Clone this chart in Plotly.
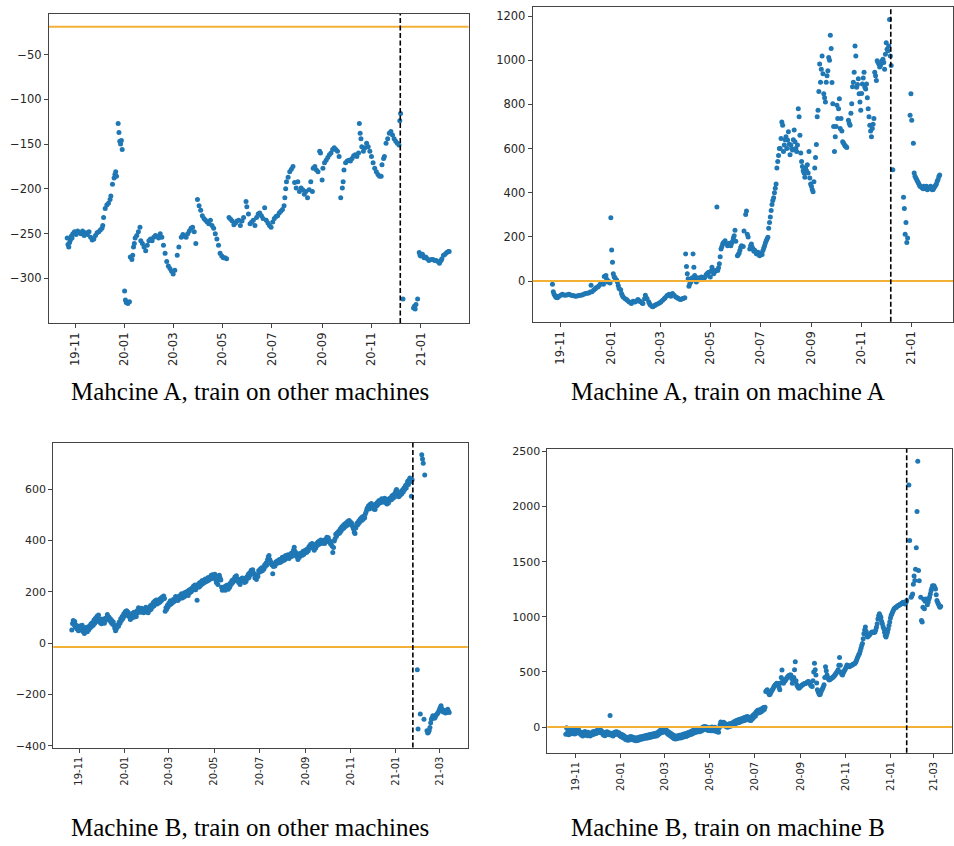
import pandas as pd
import plotly.graph_objects as go

BASE = pd.Timestamp("2019-11-01")

# ---------------- Panel 1: Machine A, train on other machines ----------------
p1_days = [-10, -9, -8, -7, -6, -5, -4, -3, -1, 1,
           3, 5, 7, 9, 11, 13, 15, 17, 19, 21,
           23, 25, 27, 29, 31, 33, 34, 35, 37, 39,
           41, 43, 44, 46, 48, 49, 50, 51, 53, 54,
           55, 56, 57, 58, 61, 62, 63, 65, 67, 68,
           70, 71, 72, 73, 74, 76, 78, 80, 81, 83,
           85, 87, 89, 91, 93, 95, 97, 99, 101, 103,
           105, 107, 109, 111, 113, 115, 117, 119, 121, 123,
           126, 128, 131, 133, 135, 137, 139, 141, 143, 145,
           147, 149, 151, 153, 155, 157, 159, 161, 163, 165,
           167, 169, 171, 173, 175, 177, 179, 181, 183, 185,
           187, 190, 192, 194, 196, 198, 200, 202, 204, 206,
           208, 211, 212, 214, 216, 218, 220, 222, 224, 226,
           228, 230, 232, 234, 236, 238, 240, 242, 244, 246,
           248, 250, 252, 254, 256, 258, 259, 260, 261, 263,
           265, 267, 269, 271, 273, 275, 277, 279, 281, 283,
           285, 287, 289, 291, 293, 294, 296, 298, 300, 302,
           303, 305, 306, 308, 310, 312, 314, 316, 318, 320,
           322, 324, 326, 328, 330, 331, 332, 334, 336, 338,
           340, 342, 344, 346, 348, 350, 351, 352, 353, 354,
           356, 358, 360, 362, 364, 366, 368, 370, 372, 374,
           376, 378, 379, 381, 382, 384, 386, 388, 390, 392,
           394, 396, 398, 400, 401, 402, 405, 418, 419, 420,
           421, 423, 425, 426, 427, 429, 431, 433, 435, 437,
           440, 442, 444, 446, 448, 450, 452, 453, 455, 457,
           459, 461, 462]
p1_vals = [-255, -262, -265, -260, -257, -253, -255, -250, -248, -251,
           -247, -249, -250, -247, -252, -249, -251, -248, -254, -257,
           -256, -252, -249, -248, -246, -244, -241, -232, -222, -218,
           -216, -212, -208, -195, -188, -184, -181, -186, -127, -137,
           -147, -150, -146, -156, -314, -324, -327, -328, -326, -276,
           -279, -274, -265, -261, -255, -252, -248, -243, -258, -261,
           -265, -269, -263, -258, -256, -258, -254, -252, -253, -255,
           -250, -254, -263, -272, -281, -286, -289, -292, -295, -291,
           -274, -265, -254, -251, -253, -254, -250, -247, -244, -243,
           -248, -261, -212, -219, -224, -230, -233, -235, -237, -239,
           -235, -241, -244, -250, -256, -263, -272, -275, -277, -277,
           -278, -232, -234, -236, -240, -238, -236, -235, -241, -236,
           -232, -214, -220, -228, -239, -237, -235, -241, -232, -228,
           -227, -230, -233, -221, -235, -238, -241, -243, -237, -233,
           -231, -230, -227, -225, -223, -219, -210, -200, -192, -187,
           -181, -178, -175, -193, -199, -192, -203, -199, -201, -206,
           -203, -210, -201, -192, -203, -177, -175, -179, -181, -158,
           -160, -190, -177, -171, -168, -165, -162, -160, -156, -154,
           -156, -158, -164, -210, -199, -192, -179, -171, -169, -168,
           -169, -166, -163, -162, -164, -160, -127, -138, -144, -153,
           -158, -154, -149, -153, -158, -164, -171, -177, -181, -184,
           -186, -186, -173, -166, -164, -149, -144, -138, -136, -140,
           -144, -147, -149, -151, -124, -116, -323, -333, -331, -334,
           -329, -323, -271, -274, -275, -273, -277, -276, -278, -280,
           -279, -279, -280, -280, -281, -283, -280, -278, -274, -273,
           -271, -270, -270]

# ---------------- Panel 2: Machine A, train on machine A ----------------
p2_days = [-10, -9, -8, -7, -6, -5, -4, -3, -2, 0,
           2, 4, 6, 8, 10, 12, 14, 16, 18, 20,
           22, 24, 26, 28, 30, 32, 34, 36, 37, 38,
           40, 42, 43, 45, 46, 48, 49, 51, 52, 53,
           55, 56, 57, 58, 60, 61, 62, 63, 64, 65,
           66, 68, 69, 70, 71, 73, 74, 75, 76, 78,
           80, 81, 83, 85, 86, 88, 90, 91, 93, 94,
           96, 97, 99, 100, 102, 103, 105, 107, 108, 109,
           111, 112, 114, 115, 117, 119, 121, 122, 124, 126,
           127, 129, 130, 132, 134, 136, 138, 140, 142, 143,
           145, 146, 148, 149, 151, 152, 153, 154, 155, 156,
           157, 158, 159, 160, 161, 162, 163, 164, 165, 166,
           167, 168, 169, 170, 171, 172, 174, 175, 176, 177,
           178, 179, 180, 182, 183, 184, 185, 186, 187, 188,
           190, 191, 192, 193, 194, 195, 196, 197, 198, 200,
           201, 203, 204, 205, 206, 207, 208, 209, 210, 211,
           212, 213, 215, 216, 217, 218, 219, 220, 222, 223,
           225, 226, 227, 228, 230, 231, 232, 233, 234, 235,
           236, 238, 239, 240, 241, 242, 243, 244, 245, 246,
           247, 248, 249, 250, 251, 252, 253, 254, 255, 256,
           257, 258, 259, 260, 261, 262, 263, 264, 265, 266,
           267, 268, 269, 270, 271, 272, 273, 274, 275, 276,
           277, 278, 279, 280, 281, 282, 283, 284, 285, 286,
           287, 288, 289, 290, 291, 292, 293, 294, 295, 296,
           297, 298, 299, 300, 301, 302, 303, 304, 305, 306,
           307, 308, 309, 310, 311, 312, 313, 314, 315, 316,
           317, 318, 319, 320, 321, 322, 323, 324, 325, 326,
           327, 328, 329, 330, 331, 332, 333, 334, 335, 336,
           337, 338, 339, 340, 341, 342, 343, 344, 345, 346,
           347, 348, 350, 351, 352, 353, 354, 355, 356, 357,
           358, 359, 360, 361, 362, 363, 364, 365, 366, 367,
           368, 369, 370, 371, 372, 373, 374, 375, 376, 377,
           378, 379, 380, 381, 382, 383, 384, 385, 386, 387,
           388, 389, 390, 391, 392, 393, 394, 395, 396, 397,
           398, 399, 400, 401, 402, 404, 417, 418, 419, 420,
           421, 422, 425, 426, 427, 429, 430, 431, 432, 433,
           434, 435, 436, 437, 438, 439, 440, 441, 442, 443,
           444, 445, 446, 447, 448, 449, 450, 451, 452, 453,
           454, 455, 456, 457, 458, 459, 460, 461]
p2_vals = [-15, -49, -60, -66, -72, -74, -76, -70, -69, -64,
           -60, -63, -64, -62, -60, -63, -66, -67, -69, -68,
           -66, -64, -63, -60, -57, -55, -54, -50, -19, -49,
           -42, -35, -30, -27, -24, -15, -12, -9, -14, 21,
           25, 8, -4, 0, -9, 287, 141, 85, 33, 20,
           15, 5, -4, -20, -34, -39, -57, -65, -72, -79,
           -84, -87, -94, -98, -102, -91, -95, -94, -88, -84,
           -90, -94, -100, -102, -80, -64, -79, -94, -102, -109,
           -114, -117, -112, -109, -105, -102, -97, -94, -87, -80,
           -76, -68, -64, -60, -69, -57, -64, -72, -76, -79,
           -82, -84, -80, -79, -76, 123, 66, 33, 10, -24,
           -12, -5, 3, 15, 123, 63, 25, 8, -4, 5,
           15, 10, 6, 12, 18, 14, 10, 16, 21, 28,
           33, 36, 40, 18, 45, 63, 48, 33, 40, 48,
           335, 48, 60, 78, 110, 145, 155, 168, 175, 183,
           170, 160, 165, 171, 168, 160, 172, 180, 195, 205,
           230, 180, 115, 120, 126, 140, 153, 160, 156, 227,
           302, 317, 212, 200, 145, 160, 168, 153, 145, 135,
           140, 123, 128, 130, 120, 115, 122, 126, 120, 138,
           150, 160, 172, 183, 190, 198, 239, 265, 290, 320,
           347, 365, 377, 400, 420, 440, 512, 542, 569, 601,
           600, 646, 721, 706, 587, 616, 640, 654, 600, 639,
           676, 620, 572, 616, 600, 594, 640, 684, 631, 600,
           587, 616, 781, 744, 661, 580, 542, 519, 500, 489,
           470, 512, 500, 527, 490, 587, 467, 440, 429, 415,
           404, 450, 512, 560, 619, 744, 774, 859, 983, 901,
           960, 1020, 939, 848, 830, 811, 901, 930, 953, 1013,
           1000, 1113, 1053, 900, 803, 700, 587, 654, 700, 796,
           736, 780, 826, 691, 736, 680, 631, 625, 619, 612,
           609, 605, 729, 715, 706, 760, 803, 880, 901, 946,
           1065, 1020, 878, 890, 916, 848, 811, 774, 850, 893,
           920, 946, 878, 870, 893, 830, 781, 744, 706, 680,
           654, 691, 710, 736, 946, 930, 908, 998, 990, 983,
           970, 976, 985, 998, 1005, 990, 960, 1028, 1080, 1050,
           1043, 1065, 1185, 1020, 976, 504, 380, 329, 212, 265,
           175, 195, 751, 848, 729, 624, 489, 475, 467, 460,
           452, 445, 437, 430, 429, 425, 422, 418, 429, 420,
           425, 430, 414, 418, 422, 420, 429, 425, 414, 415,
           422, 428, 434, 440, 452, 460, 474, 480]

# ---------------- Panel 3: Machine B, train on other machines (one value per day from day -10) ----------------
p3_start = -10
p3_vals = [51, 77, 88, 72, 84, 62, 70, 55, 66, 48,
           63, 52, 68, 58, 70, 45, 60, 38, 52, 46,
           62, 44, 56, 52, 68, 60, 76, 66, 80, 70,
           90, 78, 97, 84, 105, 92, 110, 86, 80, 94,
           76, 92, 82, 94, 78, 88, 98, 92, 112, 100,
           102, 88, 95, 80, 88, 74, 82, 70, 58, 48,
           55, 62, 72, 66, 82, 78, 95, 88, 104, 96,
           114, 106, 122, 112, 126, 110, 120, 104, 108, 92,
           104, 98, 116, 108, 120, 102, 110, 104, 126, 118,
           138, 126, 134, 120, 136, 122, 128, 118, 134, 126,
           140, 124, 130, 118, 134, 128, 146, 132, 150, 142,
           158, 146, 164, 156, 168, 152, 166, 156, 170, 160,
           175, 166, 180, 172, 184, 174, 124, 138, 132, 148,
           142, 156, 150, 165, 152, 160, 158, 170, 162, 172,
           182, 168, 176, 166, 182, 172, 186, 178, 192, 176,
           188, 180, 196, 184, 198, 188, 202, 186, 206, 196,
           210, 200, 214, 206, 222, 210, 226, 208, 224, 167,
           228, 218, 234, 222, 238, 228, 244, 232, 240, 236,
           250, 240, 248, 242, 256, 246, 254, 250, 264, 252,
           266, 256, 262, 268, 248, 236, 240, 228, 258, 264,
           254, 246, 218, 206, 214, 210, 220, 206, 224, 216,
           226, 210, 222, 218, 234, 228, 244, 236, 248, 242,
           258, 248, 262, 246, 250, 236, 242, 228, 250, 244,
           254, 244, 252, 236, 242, 240, 258, 252, 268, 256,
           274, 266, 284, 272, 286, 274, 268, 254, 260, 248,
           266, 260, 282, 276, 288, 280, 294, 282, 292, 288,
           304, 298, 312, 304, 325, 335, 341, 326, 318, 310,
           304, 270, 298, 308, 300, 316, 310, 320, 312, 322,
           326, 314, 326, 318, 334, 322, 330, 324, 340, 330,
           342, 334, 344, 330, 340, 336, 350, 338, 352, 362,
           373, 358, 352, 338, 336, 326, 340, 334, 350, 342,
           348, 342, 358, 346, 360, 352, 364, 354, 368, 360,
           376, 370, 384, 378, 388, 370, 374, 362, 376, 370,
           388, 380, 394, 384, 398, 392, 402, 388, 398, 394,
           400, 388, 404, 396, 412, 404, 410, 394, 398, 386,
           394, 378, 353, 372, 398, 406, 424, 416, 430, 426,
           436, 428, 444, 436, 452, 444, 458, 448, 464, 454,
           468, 458, 474, 466, 478, 468, 472, 460, 466, 452,
           444, 432, 427, 448, 458, 468, 462, 476, 470, 482,
           486, 478, 492, 482, 494, 488, 504, 512, 522, 527,
           534, 522, 540, 532, 544, 530, 536, 522, 528, 520,
           542, 534, 548, 540, 554, 546, 556, 548, 562, 554,
           560, 550, 564, 548, 552, 542, 550, 546, 562, 556,
           566, 558, 574, 564, 578, 568, 584, 592, 598, 580,
           584, 570, 582, 576, 590, 582, 596, 588, 604, 598,
           614, 604, 620, 630, 618, 636, 643, 628, 572, 636,
           None, None, None, None, None, None, -103, -334, None, None,
           -276, None, 733, 717, 700, -296, 655, None, None, -341,
           -350, -347, -340, -328, -310, -296, -290, -283, -288, -292,
           -289, -282, -278, -275, -270, -265, -257, -250, -244, -255,
           -263, -268, -265, -262, -272, -270, -262, -257, -265, -270]

# ---------------- Panel 4: Machine B, train on machine B (one value per day from day -13) ----------------
p4_start = -13
p4_vals = [-66, -6, -55, -30, -70, -25, -50, -21, -60, -35,
           -45, -20, -62, -38, -55, -28, -48, -18, -40, -58,
           -45, -72, -55, -80, -48, -70, -40, -65, -50, -78,
           -48, -70, -55, -82, -58, -72, -45, -66, -40, -62,
           -38, -58, -30, -52, -32, -50, -22, -40, -30, -55,
           -45, -72, -55, -78, -48, -68, -42, -66, -50, -70,
           105, -55, -75, -58, -80, -52, -70, -45, -65, -42,
           -48, -66, -52, -78, -62, -88, -68, -95, -75, -102,
           -85, -112, -92, -118, -98, -120, -90, -112, -85, -108,
           -90, -115, -95, -120, -100, -125, -98, -122, -95, -118,
           -90, -112, -88, -108, -85, -106, -80, -102, -78, -100,
           -75, -98, -72, -95, -68, -92, -65, -88, -62, -85,
           -58, -82, -55, -80, -52, -72, -40, -60, -28, -48,
           -26, -50, -22, -42, -18, -38, -25, -55, -38, -68,
           -48, -76, -55, -85, -65, -96, -75, -105, -82, -108,
           -84, -104, -78, -100, -75, -98, -74, -96, -68, -90,
           -62, -88, -60, -86, -56, -78, -50, -72, -45, -68,
           -40, -62, -32, -55, -25, -48, -22, -46, -18, -40,
           -18, -42, -14, -38, -8, -30, 0, -22, 5, -18,
           2, -24, -4, -32, -6, -30, -8, -34, 0, -30,
           -12, -35, -2, -28, -10, -42, -30, -48, -5, 20,
           45, 22, 35, 12, 44, 18, 32, 5, 22, -2,
           25, 2, 30, 8, 32, 12, 40, 22, 48, 28,
           55, 35, 62, 40, 66, 42, 70, 48, 75, 55,
           80, 58, 86, 62, 92, 68, 95, 70, 88, 62,
           82, 60, 95, 75, 110, 88, 120, 100, 138, 125,
           152, 128, 155, 132, 160, 138, 168, 150, 178, 160,
           180, 323, 330, 338, 320, 305, 293, 300, 315, 330,
           338, 350, 365, 375, 383, 390, 398, 395, 380, 360,
           338, 400, 450, 518, 430, 398, 410, 420, 428, 440,
           450, 458, 465, 470, 472, 473, 440, 398, 420, 450,
           520, 593, 420, 383, 370, 360, 353, 360, 365, 375,
           380, 383, 388, 392, 395, 398, 400, 405, 410, 413,
           400, 390, 380, 372, 368, 420, 500, 578, 520, 473,
           400, 338, 320, 305, 293, 300, 320, 338, 350, 365,
           383, 450, 548, 510, 473, 450, 435, 428, 432, 438,
           443, 448, 452, 458, 465, 475, 485, 495, 503, 520,
           560, 632, 560, 500, 480, 473, 490, 505, 518, 530,
           545, 563, 558, 552, 548, 552, 556, 560, 563, 568,
           572, 575, 578, 590, 605, 623, 640, 655, 668, 690,
           715, 740, 757, 800, 847, 880, 907, 870, 830, 817,
           825, 832, 840, 850, 855, 862, 860, 858, 860, 862,
           880, 905, 937, 980, 1010, 1027, 1010, 997, 960, 937,
           910, 892, 860, 830, 817, 840, 862, 890, 920, 952,
           990, 1015, 1027, 1045, 1060, 1072, 1080, 1085, 1087, 1095,
           1100, 1102, 1108, 1112, 1117, 1120, 1125, 1132, 1128, 1120,
           1117, 1130, 1147, None, None, 2195, 1692, None, 1177, 1190,
           1207, 1296, 1371, 1330, 1431, 1626, 1955, 2410, 1420, 1326,
           None, 1177, 967, 952, 1087, 1160, 1072, 1140, 1162, 1147,
           1110, 1132, 1160, 1180, 1207, 1237, 1260, 1281, 1275, 1281,
           1265, 1251, 1200, 1147, 1130, 1117, 1100, 1087, 1095]

# reference lines (threshold level and train/test split day)
hlines = [-19, 0, -15, 0]
split_days = [401.6, 401.5, 450, 449]
captions = ["Mahcine A, train on other machines", "Machine A, train on machine A",
            "Machine B, train on other machines", "Machine B, train on machine B"]

tick_top = ["2019-11-01", "2020-01-01", "2020-03-01", "2020-05-01", "2020-07-01",
            "2020-09-01", "2020-11-01", "2021-01-01"]
tick_bot = tick_top + ["2021-03-01"]
ytick_sets = [[-300, -250, -200, -150, -100, -50],
              [0, 200, 400, 600, 800, 1000, 1200],
              [-400, -200, 0, 200, 400, 600],
              [0, 500, 1000, 1500, 2000, 2500]]

W, H = 954, 846
# pixel boxes of each panel: (left, right, top, bottom)
boxes = [(49, 469, 11, 323), (533.3, 954, 4, 321.7), (53.3, 468.3, 444, 751.7), (548, 953, 450, 757)]
xranges_days = [(-32.5, 485.9), (-34.0, 477.2), (-35.0, 524.1), (-37.9, 510.4)]
yranges = [(-349.7, -4.7), (-184, 1241.7), (-406.5, 780), (-233.6, 2524)]
caption_pos = [(250, 392), (729, 392), (250, 832), (728.5, 832)]


def to_date(d):
    return BASE + pd.Timedelta(days=d)


series = [
    (p1_days, p1_vals),
    (p2_days, p2_vals),
    (list(range(p3_start, p3_start + len(p3_vals))), p3_vals),
    (list(range(p4_start, p4_start + len(p4_vals))), p4_vals),
]

fig = go.Figure()
layout = dict(width=W, height=H, margin=dict(l=0, r=0, t=0, b=0),
              paper_bgcolor="white", plot_bgcolor="white", showlegend=False,
              shapes=[], annotations=[])

for i, ((days, vals), box) in enumerate(zip(series, boxes)):
    n = i + 1
    xa = "x" if n == 1 else f"x{n}"
    ya = "y" if n == 1 else f"y{n}"
    xs = [to_date(d) for d in days]
    fig.add_trace(go.Scatter(x=xs, y=vals, mode="markers", xaxis=xa, yaxis=ya,
                             marker=dict(size=5, color="#1f77b4", line=dict(width=0)),
                             hoverinfo="skip"))
    l, r, t, b = box
    xfs = 11.5 if n <= 2 else 10
    yfs = 11.5 if n <= 2 else 11
    xr = [str(to_date(xranges_days[i][0])), str(to_date(xranges_days[i][1]))]
    common = dict(showline=True, linecolor="#444", linewidth=1, mirror=True,
                  showgrid=False, zeroline=False, ticks="outside", ticklen=4,
                  tickwidth=1, tickcolor="#444")
    layout["xaxis" if n == 1 else f"xaxis{n}"] = dict(
        domain=[l / W, r / W], anchor=ya, type="date", range=xr,
        tickvals=tick_top if n <= 2 else tick_bot, tickformat="%y-%m",
        tickangle=-90,
        tickfont=dict(family="DejaVu Sans", size=xfs, color="#262626"), **common)
    layout["yaxis" if n == 1 else f"yaxis{n}"] = dict(
        domain=[1 - b / H, 1 - t / H], anchor=xa, range=list(yranges[i]),
        tickvals=ytick_sets[i],
        tickfont=dict(family="DejaVu Sans", size=yfs, color="#262626"), **common)
    # horizontal threshold line
    layout["shapes"].append(dict(type="line", xref=f"{xa} domain", x0=0, x1=1,
                                 yref=ya, y0=hlines[i], y1=hlines[i],
                                 line=dict(color="#f2b134", width=2)))
    # vertical split line
    sd = str(to_date(split_days[i]))
    layout["shapes"].append(dict(type="line", xref=xa, x0=sd, x1=sd,
                                 yref=f"{ya} domain", y0=0, y1=1,
                                 line=dict(color="black", width=1.6, dash="5px,2.5px")))
    cx, cy = caption_pos[i]
    layout["annotations"].append(dict(text=captions[i], x=cx / W, y=1 - cy / H,
                                      xref="paper", yref="paper", showarrow=False,
                                      xanchor="center", yanchor="middle",
                                      font=dict(family="Liberation Serif", size=25, color="black")))

fig.update_layout(**layout)
fig.write_html("out.html")
